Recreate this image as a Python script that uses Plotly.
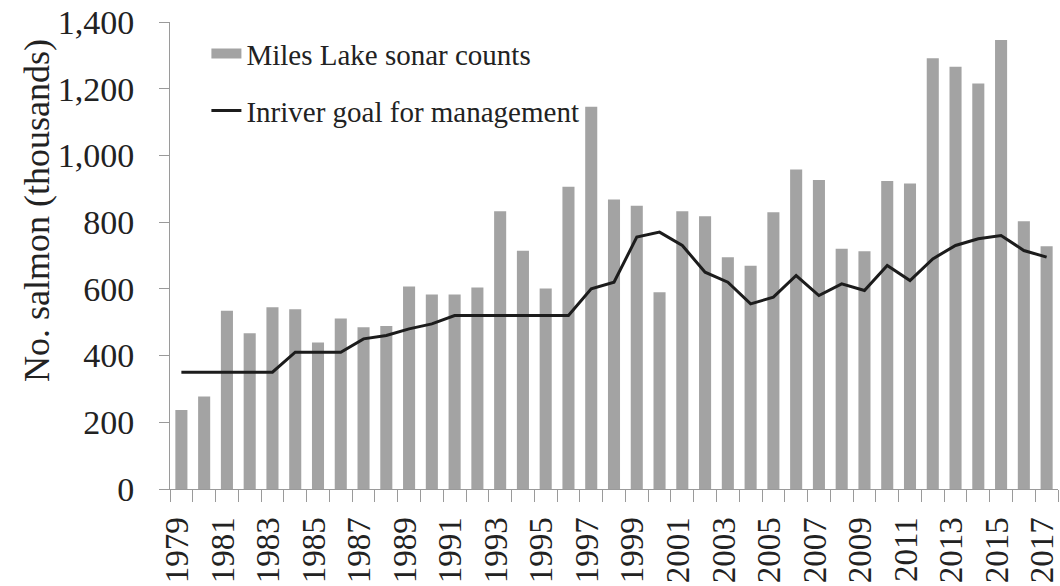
import plotly.graph_objects as go

years = list(range(1979, 2018))
sonar_counts = [237, 277, 534, 467, 545, 539, 439, 511, 485, 489,
                607, 583, 583, 604, 833, 714, 601, 906, 1146, 868,
                849, 590, 833, 818, 695, 669, 830, 958, 926, 720,
                713, 923, 916, 1291, 1266, 1216, 1346, 803, 728]
inriver_goal = [350, 350, 350, 350, 350, 410, 410, 410, 450, 460,
                480, 495, 520, 520, 520, 520, 520, 520, 600, 620,
                755, 770, 730, 650, 620, 555, 575, 640, 580, 615,
                595, 670, 625, 690, 730, 750, 760, 715, 695]
label_years = [y for y in years if y % 2 == 1]
y_ticks = [0, 200, 400, 600, 800, 1000, 1200, 1400]

FONT = "Liberation Serif"
TXT = "#222222"
BAR = "#a3a3a3"

fig = go.Figure()
fig.add_trace(go.Bar(
    x=years, y=sonar_counts, name="Miles Lake sonar counts",
    marker=dict(color=BAR, line=dict(width=0)),
    showlegend=False,
))
# legend entry for the bars (wide grey swatch, as in the reference)
fig.add_trace(go.Scatter(
    x=[None], y=[None], name="Miles Lake sonar counts",
    mode="lines", line=dict(color=BAR, width=12),
    legend="legend", showlegend=True, hoverinfo="skip",
))
fig.add_trace(go.Scatter(
    x=years, y=inriver_goal, name="Inriver goal for management",
    mode="lines", line=dict(color="#1c1c1c", width=3),
    legend="legend2", showlegend=True,
))

fig.update_layout(
    width=1060, height=586,
    margin=dict(l=170, r=2, t=22, b=97),
    paper_bgcolor="white", plot_bgcolor="white",
    bargap=0.47,
    showlegend=True,
    font=dict(family=FONT, color=TXT),
    legend=dict(x=0.041, y=0.987, xanchor="left", yanchor="top",
                font=dict(size=29, family=FONT, color=TXT),
                bgcolor="rgba(0,0,0,0)", itemwidth=30),
    legend2=dict(x=0.041, y=0.865, xanchor="left", yanchor="top",
                 font=dict(size=29, family=FONT, color=TXT),
                 bgcolor="rgba(0,0,0,0)", itemwidth=30, visible=True),
    xaxis=dict(
        range=[1978.5, 2017.5], automargin=False,
        tickmode="array", tickvals=label_years,
        ticktext=[str(y) for y in label_years],
        tickangle=-90, ticks="", ticklen=0, ticklabelstandoff=14,
        ticklabelshift=-4, ticklabeloverflow="allow",
        tickfont=dict(size=33, family=FONT, color=TXT),
        showgrid=False, zeroline=False,
        showline=True, linecolor="#9a9a9a", linewidth=1,
        minor=dict(tickvals=[y + 0.5 for y in range(1978, 2018)],
                   ticks="outside", ticklen=12, tickcolor="#9a9a9a", tickwidth=1),
    ),
    yaxis=dict(
        range=[0, 1400], automargin=False,
        tickmode="array", tickvals=y_ticks,
        ticktext=[f"{v:,}" for v in y_ticks],
        ticks="outside", ticklen=10, tickcolor="#9a9a9a", tickwidth=1,
        ticklabelstandoff=18, ticklabeloverflow="allow",
        tickfont=dict(size=34, family=FONT, color=TXT),
        showgrid=False, zeroline=False,
        showline=True, linecolor="#9a9a9a", linewidth=1,
    ),
    annotations=[dict(
        text="No. salmon (thousands)", textangle=-90,
        xref="paper", yref="paper", x=-0.149, y=0.597,
        xanchor="center", yanchor="middle", showarrow=False,
        font=dict(size=36, family=FONT, color=TXT),
    )],
)

fig.write_html("out.html",
               config={"displayModeBar": False},
               post_script="document.body.style.margin='0';document.body.style.overflow='hidden';")
